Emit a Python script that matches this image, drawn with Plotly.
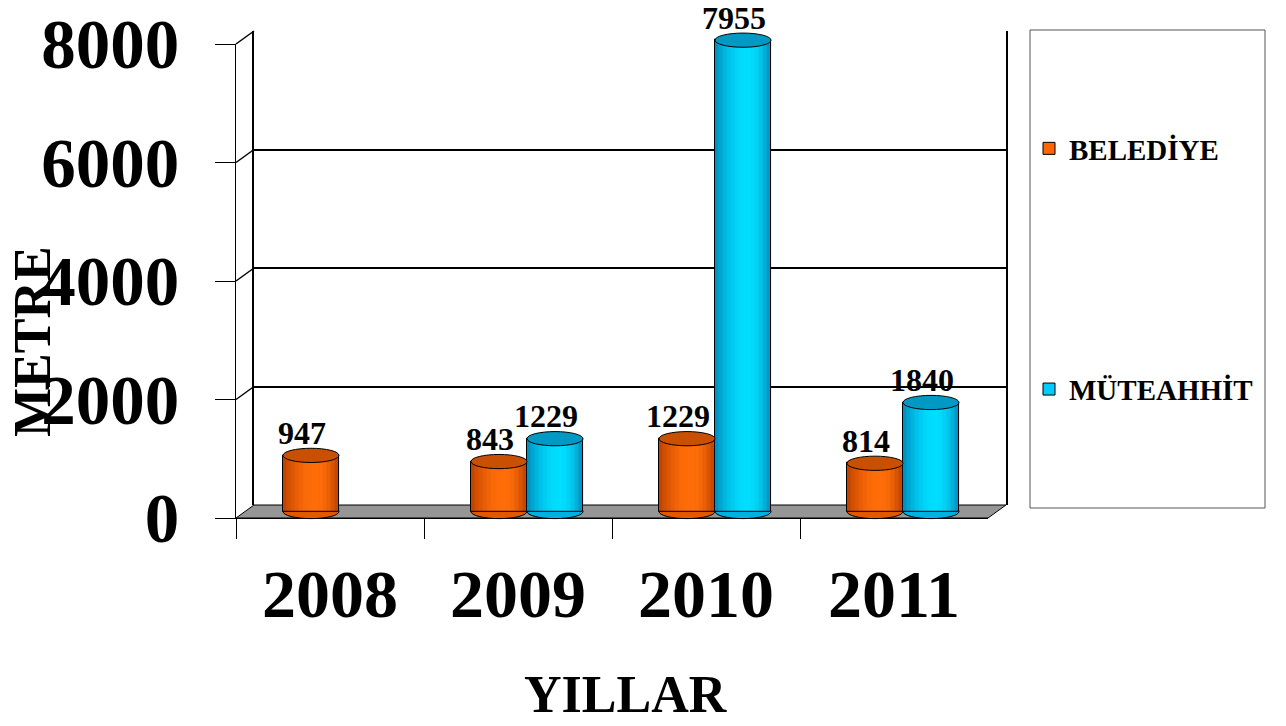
import plotly.graph_objects as go

# ---------------- data ----------------
years = ["2008", "2009", "2010", "2011"]
belediye = [947, 843, 1229, 814]
muteahhit = [None, 1229, 7955, 1840]
y_ticks = [0, 2000, 4000, 6000, 8000]
series_names = ["BELEDİYE", "MÜTEAHHİT"]

# ---------------- geometry helpers (pixel layout) ----------------
PAGE_OFF = 8                 # default body margin of the page
W, H = 1286 - PAGE_OFF, 726 - PAGE_OFF
FONT = "Liberation Serif"


def fx(p):
    return (p - PAGE_OFF) / W


def fy(p):
    return 1 - (p - PAGE_OFF) / H


YMAX = 8000
FX0, FX1 = 236, 988          # front plane x extent (px)
FY0, FY8 = 518, 44           # front plane y of 0 and 8000 (px)
K = (FY0 - FY8) / YMAX       # px per unit
DX, DY = 18, -13             # depth offset front -> back
MX, MY = DX / 2, DY / 2      # bars sit half way

MID_LO, MID_HI = -400, 8400
mid_zero = FY0 + MY
mid_dom_y = [fy(mid_zero - MID_LO * K), fy(mid_zero - MID_HI * K)]

n = len(years)
xs = list(range(n))
bw = 0.298                    # bar width in category units


def hex2rgb(h):
    h = h.lstrip("#")
    return tuple(int(h[i:i + 2], 16) for i in (0, 2, 4))


def lerp(c1, c2, t):
    a, b = hex2rgb(c1), hex2rgb(c2)
    return "rgb(%d,%d,%d)" % tuple(round(a[i] + (b[i] - a[i]) * t) for i in range(3))


fig = go.Figure()

fig.add_trace(go.Scatter(x=xs, y=[None] * n, xaxis="x", yaxis="y", showlegend=False,
                         hoverinfo="skip"))
fig.add_trace(go.Scatter(x=years, y=[None] * n, xaxis="x2", yaxis="y2", showlegend=False,
                         hoverinfo="skip"))

palettes = [
    dict(base="#FF6600", mid="#E05800", dark="#B84000", hi="#FF6E0A", top="#C85000"),
    dict(base="#00CCFF", mid="#00B0E0", dark="#0088B8", hi="#00DEFF", top="#0099C4"),
]
offsets = [-bw, 0.0]
values = [belediye, muteahhit]
NSTRIP = 14
PEAK = 0.6

for s in range(2):
    vals = values[s]
    pal = palettes[s]
    off = offsets[s]
    common = dict(x=xs, y=vals, xaxis="x3", yaxis="y3", legendgroup=series_names[s],
                  hoverinfo="skip")
    fig.add_trace(go.Bar(name=f"<b>{series_names[s]}</b>",
                         marker=dict(color=pal["base"], line=dict(color="black", width=1)),
                         offset=off, width=bw, showlegend=True, **common))
    sw = bw / NSTRIP
    for j in range(NSTRIP):
        t = (j + 0.5) / NSTRIP
        d = (t - PEAK) / (PEAK if t < PEAK else 1 - PEAK)
        f = max(0.0, 1 - d * d)
        col = lerp(pal["dark"], pal["hi"], f)
        fig.add_trace(go.Bar(marker=dict(color=col, line=dict(color=col, width=0.5)),
                             offset=off + j * sw, width=sw * 1.02, showlegend=False, **common))
    fig.add_trace(go.Bar(marker=dict(color="rgba(0,0,0,0)", line=dict(color="black", width=1)),
                         offset=off, width=bw, showlegend=False, **common))

shapes = []
fl = [(FX0, FY0), (FX1, FY0), (FX1 + DX, FY0 + DY), (FX0 + DX, FY0 + DY)]
path = "M " + " L ".join(f"{fx(a)},{fy(b)}" for a, b in fl) + " Z"
shapes.append(dict(type="path", xref="paper", yref="paper", path=path,
                   fillcolor="#969696", line=dict(color="black", width=1), layer="below"))
for v in y_ticks[1:]:
    yf = FY0 - v * K
    shapes.append(dict(type="line", xref="paper", yref="paper",
                       x0=fx(FX0), y0=fy(yf), x1=fx(FX0 + DX), y1=fy(yf + DY),
                       line=dict(color="black", width=1.5), layer="below"))

ell_h = 240
for s in range(2):
    vals = values[s]
    pal = palettes[s]
    off = offsets[s]
    for i, v in enumerate(vals):
        if v is None:
            continue
        shapes.append(dict(type="circle", xref="x3", yref="y3", x0=i + off, x1=i + off + bw,
                           y0=-ell_h / 2, y1=ell_h / 2, fillcolor=pal["mid"],
                           line=dict(color="black", width=1), layer="below"))
        shapes.append(dict(type="circle", xref="x3", yref="y3", x0=i + off, x1=i + off + bw,
                           y0=v - ell_h / 2, y1=v + ell_h / 2, fillcolor=pal["top"],
                           line=dict(color="black", width=1), layer="above"))

shapes.append(dict(type="rect", xref="paper", yref="paper", x0=fx(1030), x1=fx(1265),
                   y0=fy(508), y1=fy(30), line=dict(color="#555555", width=1)))

annotations = []
for s in range(2):
    vals = values[s]
    for i, v in enumerate(vals):
        if v is None:
            continue
        annotations.append(dict(x=i + (offsets[s] + bw / 2), y=v, xref="x2", yref="y2",
                                text=f"<b>{v}</b>", showarrow=False, yanchor="bottom",
                                xanchor="center", yshift=9,
                                font=dict(family=FONT, size=32, color="black")))
annotations.append(dict(x=fx(32), y=fy(342), xref="paper", yref="paper", text="<b>METRE</b>",
                        textangle=-90, showarrow=False, xanchor="center", yanchor="middle",
                        font=dict(family=FONT, size=52, color="black")))
annotations.append(dict(x=fx(626), y=fy(694), xref="paper", yref="paper", text="<b>YILLAR</b>",
                        showarrow=False, xanchor="center", yanchor="middle",
                        font=dict(family=FONT, size=52, color="black")))

fig.update_layout(
    width=W, height=H, margin=dict(l=0, r=0, t=0, b=0, autoexpand=False),
    paper_bgcolor="white", plot_bgcolor="rgba(0,0,0,0)",
    barmode="overlay", bargap=0,
    xaxis=dict(domain=[fx(FX0 + DX), fx(FX1 + DX)], range=[-0.5, n - 0.5], showgrid=False,
               showticklabels=False, zeroline=False, showline=False, anchor="y", fixedrange=True,
               automargin=False),
    yaxis=dict(domain=[fy(FY0 + DY), fy(FY8 + DY)], range=[0, YMAX], showgrid=True,
               gridcolor="black", gridwidth=1.5, tickvals=y_ticks, showticklabels=False,
               zeroline=False, showline=True, linecolor="black", linewidth=2, mirror=True,
               anchor="x", fixedrange=True, automargin=False),
    xaxis2=dict(domain=[fx(FX0), fx(FX1)], type="category", categoryarray=years,
                categoryorder="array", range=[-0.5, n - 0.5], tickson="boundaries",
                ticks="outside", ticklen=20, tickcolor="black", tickwidth=1,
                showline=True, linecolor="black", linewidth=1, showgrid=False,
                tickprefix="<b>", ticksuffix="</b>", ticklabeloverflow="allow",
                tickfont=dict(family=FONT, size=68, color="black"), ticklabelstandoff=16,
                anchor="y2", fixedrange=True, automargin=False),
    yaxis2=dict(domain=[fy(FY0), fy(FY8)], range=[0, YMAX], tickvals=y_ticks,
                ticktext=[f"<b>{t}</b>" for t in y_ticks], ticks="outside", ticklen=20,
                tickcolor="black", showline=True, linecolor="black", linewidth=1,
                showgrid=False, zeroline=False, ticklabelstandoff=22,
                ticklabeloverflow="allow",
                tickfont=dict(family=FONT, size=69, color="black"), anchor="x2",
                fixedrange=True, automargin=False),
    xaxis3=dict(domain=[fx(FX0 + MX), fx(FX1 + MX)], range=[-0.5, n - 0.5], visible=False,
                anchor="y3", fixedrange=True, automargin=False),
    yaxis3=dict(domain=mid_dom_y, range=[MID_LO, MID_HI], visible=False, anchor="x3",
                fixedrange=True, automargin=False),
    legend=dict(x=fx(1029), y=fy(123), xanchor="left", yanchor="top", traceorder="grouped",
                tracegroupgap=200, bgcolor="rgba(0,0,0,0)",
                font=dict(family=FONT, size=29, color="black")),
    shapes=shapes, annotations=annotations,
)

fig.write_html("out.html")
